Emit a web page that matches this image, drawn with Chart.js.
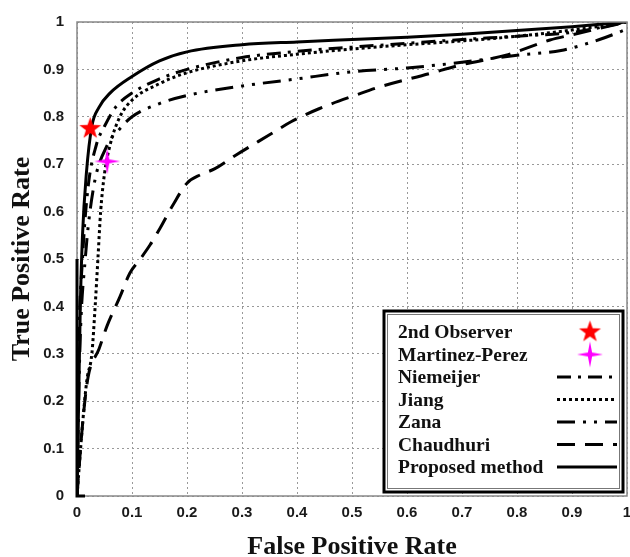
<!DOCTYPE html>
<html>
<head>
<meta charset="utf-8">
<script src="https://cdn.jsdelivr.net/npm/chart.js@4"></script>
<style>
  html, body { margin: 0; padding: 0; background: #fff; overflow: hidden; }
  #wrap { width: 630px; height: 557px; overflow: hidden; }
</style>
</head>
<body>
<div id="wrap"><canvas id="roc" width="641" height="557"></canvas></div>
<script>
// ROC curves
const tickLabels = ["0", "0.1", "0.2", "0.3", "0.4", "0.5", "0.6", "0.7", "0.8", "0.9", "1"];

const proposedFpr = [0, 0.003, 0.006, 0.01, 0.017, 0.027, 0.04, 0.06, 0.1, 0.15, 0.2, 0.3, 0.4, 0.5, 0.6, 0.7, 0.8, 0.9, 1];
const proposedTpr = [0, 0.2, 0.4, 0.55, 0.68, 0.78, 0.82, 0.85, 0.885, 0.918, 0.937, 0.952, 0.958, 0.963, 0.968, 0.974, 0.982, 0.99, 1];

const niemeijerFpr = [0, 0.003, 0.01, 0.02, 0.035, 0.05, 0.07, 0.1, 0.15, 0.2, 0.3, 0.4, 0.5, 0.6, 0.7, 0.8, 0.9, 1];
const niemeijerTpr = [0, 0.3, 0.5, 0.65, 0.74, 0.78, 0.82, 0.85, 0.88, 0.9, 0.925, 0.938, 0.947, 0.955, 0.963, 0.97, 0.978, 1];

const jiangFpr = [0, 0.01, 0.018, 0.027, 0.033, 0.038, 0.043, 0.05, 0.06, 0.078, 0.1, 0.15, 0.2, 0.3, 0.4, 0.5, 0.6, 0.7, 0.8, 0.9, 1];
const jiangTpr = [0, 0.15, 0.245, 0.3, 0.4, 0.5, 0.6, 0.68, 0.74, 0.8, 0.835, 0.87, 0.893, 0.918, 0.932, 0.943, 0.952, 0.96, 0.97, 0.983, 1];

const zanaFpr = [0, 0.005, 0.015, 0.03, 0.055, 0.078, 0.1, 0.15, 0.2, 0.3, 0.4, 0.5, 0.6, 0.7, 0.8, 0.88, 0.95, 1];
const zanaTpr = [0, 0.3, 0.5, 0.65, 0.74, 0.775, 0.8, 0.828, 0.845, 0.865, 0.88, 0.895, 0.903, 0.915, 0.93, 0.94, 0.963, 0.985];

const chaudhuriFpr = [0, 0.01, 0.02, 0.04, 0.055, 0.078, 0.096, 0.115, 0.133, 0.151, 0.175, 0.2, 0.225, 0.25, 0.29, 0.35, 0.39, 0.44, 0.51, 0.55, 0.64, 0.7, 0.78, 0.86, 0.9, 1];
const chaudhuriTpr = [0, 0.15, 0.25, 0.31, 0.36, 0.42, 0.47, 0.5, 0.53, 0.565, 0.615, 0.66, 0.678, 0.69, 0.72, 0.762, 0.79, 0.817, 0.847, 0.863, 0.891, 0.91, 0.93, 0.962, 0.973, 1];

const observerPt = [0.024, 0.775];
const martinezPt = [0.055, 0.706];

function zipPts(xs, ys) {
  return xs.map((x, i) => ({ x, y: ys[i] }));
}

function starCanvas(n, outer, inner, color) {
  const size = Math.ceil(outer * 2 + 2);
  const c = document.createElement("canvas");
  c.width = size;
  c.height = size;
  const g = c.getContext("2d");
  const cx = size / 2, cy = size / 2;
  g.beginPath();
  for (let i = 0; i < n * 2; i++) {
    const r = i % 2 === 0 ? outer : inner;
    const a = -Math.PI / 2 + (i * Math.PI) / n;
    const px = cx + r * Math.cos(a), py = cy + r * Math.sin(a);
    if (i === 0) g.moveTo(px, py); else g.lineTo(px, py);
  }
  g.closePath();
  g.fillStyle = color;
  g.fill();
  return c;
}

const redStar = starCanvas(5, 11.5, 4.6, "#ff0000");
const pinkStar = starCanvas(4, 13, 3, "#ff00ff");

function lineSet(label, xs, ys, dash, width) {
  return {
    type: "line",
    label,
    data: zipPts(xs, ys),
    borderColor: "#000",
    borderWidth: width,
    borderDash: dash,
    borderCapStyle: "butt",
    pointRadius: 0,
    fill: false,
    cubicInterpolationMode: "monotone"
  };
}

const datasets = [
  { type: "scatter", label: "2nd Observer", data: [{ x: observerPt[0], y: observerPt[1] }], pointStyle: redStar, pointRadius: 12 },
  { type: "scatter", label: "Martinez-Perez", data: [{ x: martinezPt[0], y: martinezPt[1] }], pointStyle: pinkStar, pointRadius: 13 },
  lineSet("Niemeijer", niemeijerFpr, niemeijerTpr, [14, 7, 3, 7], 3),
  lineSet("Jiang", jiangFpr, jiangTpr, [3, 3], 3),
  lineSet("Zana", zanaFpr, zanaTpr, [18, 8, 3, 8, 3, 8], 3),
  lineSet("Chaudhuri", chaudhuriFpr, chaudhuriTpr, [18, 10], 3),
  lineSet("Proposed method", proposedFpr, proposedTpr, [], 3)
];

// boxed legend inside the lower right corner + plot frame
const boxLegend = {
  id: "boxLegend",
  afterDraw(chart) {
    const ctx = chart.ctx;
    const a = chart.chartArea;
    ctx.save();
    ctx.strokeStyle = "#888";
    ctx.lineWidth = 1.5;
    ctx.strokeRect(a.left, a.top, a.right - a.left, a.bottom - a.top);
    ctx.strokeStyle = "#000";
    ctx.lineWidth = 3;
    ctx.beginPath();
    ctx.moveTo(a.left, a.top + (a.bottom - a.top) / 2);
    ctx.lineTo(a.left, a.bottom);
    ctx.lineTo(a.left + 8, a.bottom);
    ctx.stroke();

    const bx = 384, by = 311, bw = 239, bh = 181;
    ctx.fillStyle = "#fff";
    ctx.fillRect(bx, by, bw, bh);
    ctx.lineWidth = 3;
    ctx.strokeStyle = "#000";
    ctx.strokeRect(bx, by, bw, bh);
    ctx.lineWidth = 1;
    ctx.strokeStyle = "#777";
    ctx.strokeRect(bx + 3.5, by + 3.5, bw - 7, bh - 7);

    ctx.font = "bold 19.5px 'Liberation Serif', 'DejaVu Serif', serif";
    ctx.textBaseline = "middle";
    ctx.fillStyle = "#111";
    chart.data.datasets.forEach((ds, i) => {
      const y = 332 + i * 22.5;
      ctx.fillText(ds.label, 398, y + 1);
      if (ds.type === "scatter") {
        const img = ds.pointStyle;
        ctx.drawImage(img, 590 - img.width / 2, y - img.height / 2);
      } else {
        ctx.save();
        ctx.strokeStyle = "#000";
        ctx.lineWidth = 3;
        ctx.setLineDash(ds.borderDash);
        ctx.beginPath();
        ctx.moveTo(557, y);
        ctx.lineTo(617, y);
        ctx.stroke();
        ctx.restore();
      }
    });
    ctx.restore();
  }
};

const tickFont = { family: "'Liberation Sans', Arial, sans-serif", size: 15, weight: "bold" };
const titleFont = { family: "'Liberation Serif', 'DejaVu Serif', serif", size: 26, weight: "bold", lineHeight: 1 };

new Chart(document.getElementById("roc"), {
  data: { datasets },
  plugins: [boxLegend],
  options: {
    responsive: false,
    animation: false,
    layout: { padding: { top: 20, right: 3, left: 0, bottom: 0 } },
    plugins: { legend: { display: false }, tooltip: { enabled: false } },
    scales: {
      x: {
        type: "linear",
        min: 0,
        max: 1,
        afterFit: s => { s.height = 61; },
        ticks: { stepSize: 0.1, padding: 8, color: "#1a1a1a", font: tickFont, maxRotation: 0, callback: (v, i) => tickLabels[i] },
        grid: { color: "#999", lineWidth: 1, drawTicks: false },
        border: { display: false, dash: [2, 3] },
        title: { display: true, text: "False Positive Rate", color: "#111", font: titleFont, padding: { top: 0, bottom: -3 } }
      },
      y: {
        type: "linear",
        min: 0,
        max: 1,
        afterFit: s => { s.width = 77; },
        ticks: { stepSize: 0.1, padding: 13, color: "#1a1a1a", font: tickFont, callback: (v, i) => tickLabels[i] },
        grid: { color: "#999", lineWidth: 1, drawTicks: false },
        border: { display: false, dash: [2, 3] },
        title: { display: true, text: "True Positive Rate", color: "#111", font: titleFont, padding: { top: 9, bottom: 0 } }
      }
    }
  }
});
</script>
</body>
</html>
